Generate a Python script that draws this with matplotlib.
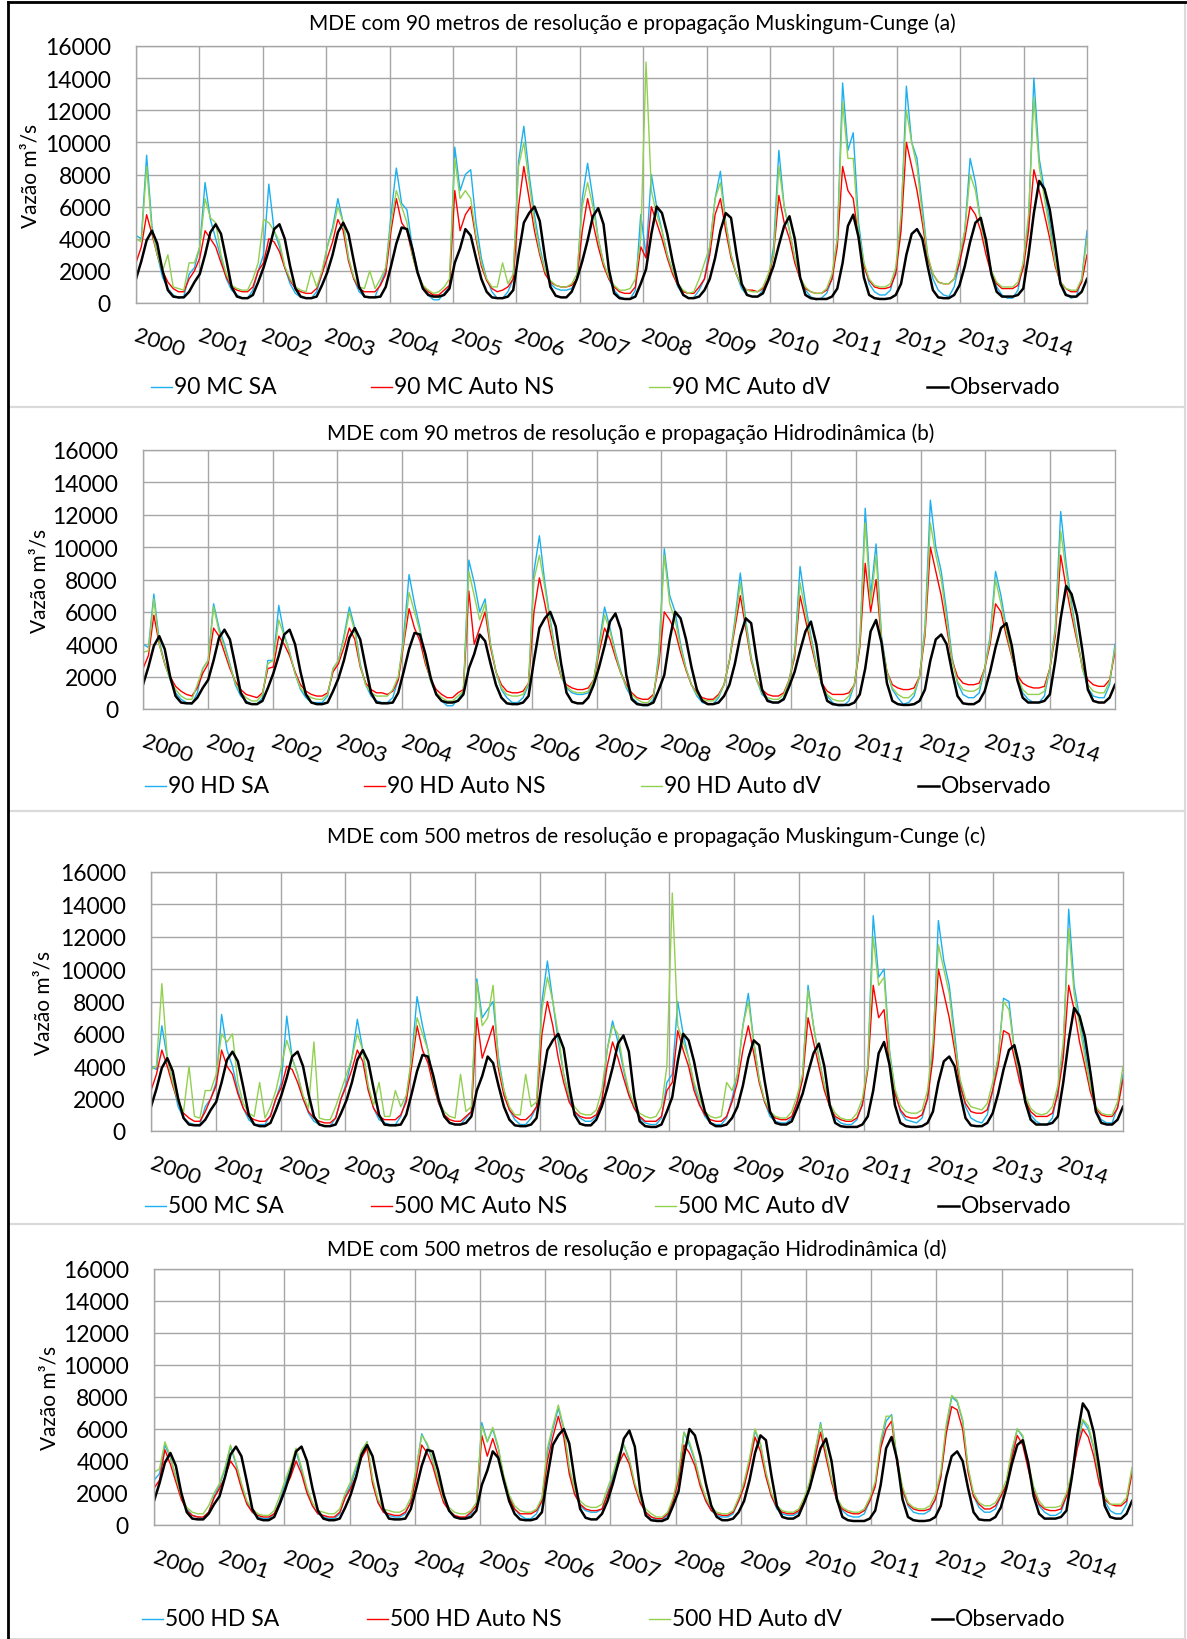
import numpy as np
import matplotlib
matplotlib.use("Agg")
import matplotlib.pyplot as plt
from matplotlib.lines import Line2D
from matplotlib.patches import Rectangle
from matplotlib.transforms import blended_transform_factory

plt.rcParams['font.family'] = ['Lato', 'DejaVu Sans']

LARGURA, ALTURA = 1187, 1640

ANOS = list(range(2000, 2015))
ROTULOS_ANOS = [str(a) for a in ANOS]
MARCAS_Y = list(range(0, 16001, 2000))

# vazões médias mensais (m³/s), uma linha por ano, jan..dez
OBSERVADO = [
    [1500, 2600, 3900, 4500, 3700, 2000, 800, 400, 350, 350, 700, 1300],
    [1800, 3000, 4400, 4900, 4300, 2700, 1000, 400, 300, 300, 500, 1300],
    [2200, 3300, 4600, 4900, 4000, 2300, 900, 400, 300, 300, 400, 1100],
    [1900, 3000, 4400, 5000, 4300, 2600, 1000, 400, 350, 350, 400, 1000],
    [2300, 3700, 4700, 4600, 3400, 1900, 900, 500, 400, 400, 500, 900],
    [2500, 3400, 4600, 4200, 2800, 1500, 700, 350, 300, 300, 400, 800],
    [3000, 5000, 5600, 6000, 5100, 2800, 1000, 450, 350, 350, 700, 1500],
    [2600, 3900, 5400, 5900, 4900, 2100, 600, 300, 250, 250, 400, 1200],
    [2100, 4300, 6000, 5600, 4300, 2600, 1200, 500, 300, 300, 400, 800],
    [1500, 2800, 4500, 5600, 5300, 3100, 1200, 500, 400, 400, 600, 1400],
    [2300, 3600, 4800, 5400, 4000, 1600, 500, 300, 250, 250, 250, 400],
    [900, 2500, 4800, 5500, 4100, 1600, 500, 300, 250, 250, 300, 500],
    [1200, 3000, 4300, 4600, 4000, 2300, 800, 350, 300, 300, 500, 1100],
    [2300, 3800, 5000, 5300, 3900, 1800, 700, 400, 400, 400, 500, 900],
    [3000, 5600, 7600, 7100, 5800, 3600, 1200, 500, 400, 400, 700, 1500],
]

MC90_SA = [
    [4200, 4000, 9200, 4800, 3000, 1600, 900, 500, 300, 400, 1800, 2200],
    [3500, 7500, 5200, 4000, 2800, 1500, 800, 500, 300, 300, 800, 2000],
    [3000, 7400, 4500, 3500, 2200, 1200, 600, 350, 300, 300, 700, 1800],
    [3500, 4700, 6500, 5000, 2800, 1500, 700, 400, 350, 400, 1200, 2000],
    [5500, 8400, 6200, 5800, 3500, 2000, 1000, 500, 200, 200, 600, 1000],
    [9700, 7000, 8000, 8300, 5000, 2800, 1500, 700, 300, 300, 700, 1500],
    [8800, 11000, 8000, 5500, 3500, 2000, 1200, 900, 800, 800, 900, 1500],
    [6500, 8700, 6500, 4000, 2500, 1500, 800, 400, 250, 250, 800, 5500],
    [3000, 8000, 6000, 4500, 3000, 2000, 1000, 500, 300, 350, 800, 1500],
    [3500, 6500, 8200, 5000, 3000, 1800, 900, 500, 400, 400, 800, 1500],
    [3500, 9500, 6000, 4500, 2800, 1500, 800, 400, 200, 300, 600, 1500],
    [4000, 13700, 9500, 10600, 5000, 2500, 1200, 700, 500, 500, 800, 2000],
    [5000, 13500, 10000, 9000, 6000, 3000, 1500, 800, 500, 400, 1000, 2500],
    [4500, 9000, 7500, 5000, 3500, 2000, 1000, 500, 300, 300, 800, 2500],
    [5000, 14000, 9000, 7000, 5000, 2500, 1200, 600, 300, 400, 1500, 4500],
]
MC90_NS = [
    [2500, 3500, 5500, 4300, 3000, 2000, 1300, 900, 700, 700, 1500, 2000],
    [2800, 4500, 4000, 3500, 2500, 1600, 1000, 800, 700, 700, 1000, 2000],
    [2500, 4000, 3800, 3200, 2200, 1400, 900, 700, 600, 600, 900, 1800],
    [2800, 3800, 5200, 4500, 2600, 1500, 900, 700, 700, 700, 1100, 1800],
    [4500, 6500, 5000, 4500, 3000, 1800, 1100, 700, 500, 500, 800, 1100],
    [7000, 4500, 5500, 6000, 4000, 2300, 1400, 900, 700, 800, 1000, 1500],
    [6000, 8500, 6500, 4500, 3000, 1800, 1300, 1100, 1000, 1000, 1100, 1500],
    [4500, 6500, 5000, 3500, 2300, 1500, 1000, 700, 600, 600, 1000, 3500],
    [2800, 6000, 5000, 4000, 2800, 1800, 1100, 700, 600, 600, 1000, 1500],
    [3000, 5500, 6500, 4500, 2800, 1800, 1100, 800, 800, 700, 900, 1500],
    [3000, 6700, 5000, 4000, 2500, 1500, 900, 700, 600, 600, 800, 1500],
    [3500, 8500, 7000, 6500, 4000, 2300, 1400, 1000, 900, 900, 1000, 1800],
    [4500, 10000, 8500, 7000, 5000, 2800, 1800, 1300, 1200, 1200, 1500, 2500],
    [4000, 6000, 5500, 4500, 3000, 1800, 1200, 900, 900, 900, 1100, 2200],
    [4500, 8300, 7000, 5500, 4000, 2300, 1300, 900, 700, 700, 1300, 3000],
]
MC90_DV = [
    [4000, 3800, 8500, 4500, 3000, 2000, 3000, 1000, 900, 800, 2500, 2500],
    [3500, 6500, 5300, 5000, 3000, 1800, 1100, 900, 800, 800, 1500, 2500],
    [5200, 5000, 4500, 3800, 2300, 1500, 1000, 800, 700, 2000, 1000, 2000],
    [3500, 4500, 6000, 5000, 2800, 1600, 1000, 900, 2000, 900, 1500, 2200],
    [5000, 7000, 6000, 5000, 3000, 1800, 1100, 800, 600, 700, 1000, 1500],
    [9000, 6500, 7000, 6500, 4200, 2500, 1500, 1000, 1000, 2500, 1200, 1800],
    [8500, 10000, 7500, 5000, 3200, 2000, 1400, 1100, 1000, 1000, 1200, 1800],
    [6000, 7500, 6000, 4000, 2500, 1600, 1100, 800, 800, 900, 1500, 4000],
    [15000, 7000, 5500, 4500, 3000, 2000, 1200, 800, 600, 700, 1500, 2500],
    [3500, 6500, 7500, 5000, 3000, 1800, 1100, 800, 700, 700, 1000, 1800],
    [3000, 8500, 6000, 4500, 2800, 1600, 1000, 700, 600, 600, 900, 1800],
    [4000, 12500, 9000, 9000, 4500, 2500, 1500, 1100, 1000, 1000, 1200, 2200],
    [5500, 12000, 10000, 8500, 5500, 3000, 1800, 1300, 1200, 1200, 1500, 3000],
    [4500, 8000, 7000, 5000, 3500, 2000, 1300, 1000, 1000, 1000, 1300, 2500],
    [5500, 12800, 8500, 6500, 4500, 2500, 1300, 900, 800, 800, 1500, 4000],
]

HD90_SA = [
    [4000, 3800, 7100, 4200, 2800, 1800, 1000, 600, 400, 300, 1000, 2500],
    [3000, 6500, 5000, 4000, 2800, 1500, 800, 500, 300, 300, 700, 3000],
    [3000, 6400, 4600, 3500, 2200, 1200, 700, 400, 400, 400, 800, 2500],
    [3000, 4500, 6300, 5000, 2800, 1500, 800, 500, 400, 400, 700, 1800],
    [4500, 8300, 6500, 5000, 3000, 1700, 900, 500, 200, 200, 600, 1000],
    [9200, 7800, 6000, 6800, 4000, 2300, 1200, 700, 400, 400, 700, 1500],
    [8500, 10700, 7800, 5500, 3500, 2000, 1300, 1000, 900, 900, 1000, 1800],
    [4000, 6300, 5000, 3500, 2300, 1300, 700, 400, 200, 200, 600, 3500],
    [9900, 7000, 6000, 4000, 2500, 1500, 800, 400, 300, 300, 700, 1500],
    [3000, 5500, 8400, 5500, 3200, 1800, 900, 600, 400, 400, 700, 1800],
    [3500, 8800, 6500, 4500, 2800, 1500, 800, 400, 200, 200, 500, 1500],
    [4000, 12400, 7000, 10200, 4500, 2300, 1200, 700, 300, 400, 800, 2000],
    [5000, 12900, 10000, 8500, 6000, 3200, 1600, 900, 700, 700, 1000, 2500],
    [4500, 8500, 7000, 5000, 3300, 2000, 1000, 600, 400, 400, 800, 2500],
    [5000, 12200, 9000, 6500, 4500, 2500, 1300, 800, 700, 700, 1500, 4000],
]
HD90_NS = [
    [2500, 3300, 5800, 4000, 2800, 2000, 1400, 1100, 900, 800, 1300, 2200],
    [2800, 5000, 4500, 3500, 2500, 1700, 1200, 900, 800, 700, 1000, 2500],
    [2600, 4500, 4000, 3300, 2300, 1500, 1100, 900, 800, 800, 1000, 2300],
    [2800, 3800, 5000, 4300, 2600, 1600, 1200, 1000, 1000, 900, 1100, 1800],
    [4000, 6200, 5000, 4200, 2800, 1800, 1200, 900, 700, 700, 1000, 1200],
    [7300, 4000, 5000, 6000, 3800, 2300, 1500, 1100, 1000, 1000, 1100, 1600],
    [6000, 8100, 6500, 4800, 3200, 2000, 1500, 1300, 1200, 1200, 1300, 1800],
    [3500, 5000, 4300, 3200, 2200, 1500, 1000, 700, 600, 600, 900, 2800],
    [6000, 5500, 4800, 3500, 2400, 1500, 1000, 700, 600, 600, 900, 1500],
    [3000, 5000, 7000, 5000, 3000, 1800, 1200, 900, 800, 800, 1000, 1800],
    [3200, 7000, 5500, 4000, 2600, 1600, 1100, 900, 900, 900, 1000, 1500],
    [3800, 9000, 6000, 8000, 4200, 2300, 1500, 1300, 1200, 1200, 1300, 2000],
    [4500, 10000, 8500, 7000, 5000, 3000, 2000, 1600, 1500, 1500, 1600, 2500],
    [4000, 6500, 6000, 4500, 3200, 2100, 1600, 1400, 1300, 1300, 1400, 2500],
    [4500, 9500, 7500, 5800, 4200, 2600, 1800, 1500, 1400, 1400, 1800, 3500],
]
HD90_DV = [
    [3500, 3600, 6800, 4000, 2800, 1800, 1200, 800, 600, 600, 1500, 2500],
    [3000, 6300, 4800, 3800, 2700, 1600, 1000, 700, 500, 500, 900, 2800],
    [3000, 5500, 4500, 3500, 2200, 1300, 900, 700, 600, 600, 900, 2500],
    [3000, 4300, 6000, 4800, 2700, 1500, 1000, 800, 800, 800, 1200, 2000],
    [4200, 7200, 6000, 4800, 3000, 1700, 1000, 700, 500, 500, 800, 1100],
    [8500, 7000, 5500, 6500, 4000, 2300, 1300, 900, 800, 800, 900, 1600],
    [8000, 9500, 7500, 5300, 3400, 2000, 1400, 1100, 1000, 1000, 1100, 1800],
    [3800, 5800, 4800, 3400, 2200, 1400, 900, 600, 400, 400, 800, 3200],
    [9500, 6500, 5500, 3800, 2500, 1500, 900, 600, 500, 500, 800, 1500],
    [3000, 5300, 7800, 5300, 3100, 1800, 1000, 700, 600, 600, 900, 1800],
    [3400, 7800, 6000, 4300, 2700, 1500, 900, 600, 500, 500, 800, 1500],
    [4000, 11500, 6500, 9500, 4300, 2300, 1300, 900, 700, 700, 1000, 2000],
    [4800, 11500, 9500, 8000, 5500, 3000, 1700, 1200, 1100, 1100, 1300, 2500],
    [4300, 8000, 6500, 4800, 3300, 2000, 1200, 900, 900, 900, 1100, 2500],
    [4800, 11000, 8500, 6200, 4400, 2500, 1500, 1100, 1000, 1000, 1700, 3800],
]

MC500_SA = [
    [4000, 3800, 6500, 4500, 3000, 1500, 800, 500, 400, 400, 1500, 2000],
    [3000, 7200, 5000, 4000, 2500, 1400, 700, 400, 400, 400, 1000, 2000],
    [3000, 7100, 4500, 3500, 2000, 1100, 600, 400, 300, 300, 800, 2000],
    [3000, 4500, 6900, 5000, 2700, 1400, 700, 500, 400, 400, 900, 2000],
    [4500, 8300, 6500, 5000, 3000, 1700, 900, 500, 400, 400, 800, 1200],
    [9400, 7000, 7500, 8000, 4500, 2500, 1300, 700, 400, 400, 800, 1500],
    [8000, 10500, 8000, 5500, 3500, 2000, 1200, 800, 600, 600, 900, 1800],
    [5000, 6800, 5500, 3800, 2300, 1400, 800, 500, 400, 400, 800, 3000],
    [3500, 8000, 6000, 4500, 2800, 1700, 900, 500, 400, 400, 800, 2000],
    [3500, 6500, 8500, 5500, 3200, 1800, 900, 600, 500, 500, 800, 1800],
    [3500, 9000, 6500, 4500, 2800, 1500, 800, 500, 400, 400, 700, 1700],
    [4000, 13300, 9500, 10000, 5000, 2500, 1200, 700, 600, 500, 800, 2000],
    [5000, 13000, 10500, 9000, 6000, 3000, 1500, 800, 600, 500, 1000, 2500],
    [4500, 8200, 8000, 5000, 3300, 2000, 1000, 600, 400, 400, 800, 2500],
    [5000, 13700, 9000, 7000, 5000, 2600, 1300, 700, 500, 500, 1500, 3500],
]
MC500_NS = [
    [2500, 3500, 5000, 4000, 2800, 1800, 1100, 800, 600, 600, 1200, 2000],
    [2800, 5000, 4000, 3500, 2300, 1400, 900, 700, 600, 600, 900, 2000],
    [2700, 4000, 3800, 3000, 2000, 1200, 800, 600, 500, 500, 800, 2000],
    [2800, 3800, 5000, 4300, 2500, 1400, 900, 700, 700, 700, 1000, 1800],
    [4000, 6500, 5000, 4200, 2800, 1700, 1000, 700, 600, 600, 900, 1200],
    [7000, 4500, 5500, 6500, 3800, 2200, 1300, 900, 700, 700, 1000, 1500],
    [6000, 8000, 6500, 4500, 3000, 1800, 1200, 900, 800, 800, 1000, 1800],
    [4000, 5500, 4500, 3300, 2200, 1400, 900, 600, 600, 600, 900, 2500],
    [3000, 6200, 5000, 4000, 2500, 1600, 1000, 700, 600, 600, 900, 1800],
    [3000, 5000, 6500, 4800, 3000, 1800, 1100, 800, 700, 700, 900, 1800],
    [3200, 7000, 5500, 4000, 2500, 1500, 900, 700, 600, 600, 800, 1600],
    [3800, 9000, 7000, 7500, 4000, 2300, 1300, 900, 800, 800, 1000, 2000],
    [4500, 10000, 8500, 7000, 5000, 2800, 1700, 1200, 1100, 1100, 1300, 2500],
    [4000, 6200, 6000, 4500, 3000, 1900, 1200, 900, 900, 900, 1100, 2300],
    [4500, 9000, 7500, 5500, 4000, 2400, 1400, 1000, 900, 900, 1400, 3200],
]
MC500_DV = [
    [3800, 4000, 9100, 4500, 3000, 1800, 1200, 4000, 900, 800, 2500, 2500],
    [3500, 6000, 5500, 6000, 3000, 1700, 1100, 900, 3000, 800, 1500, 2500],
    [4000, 5600, 4500, 3500, 2200, 1400, 5500, 800, 700, 700, 1500, 2500],
    [3500, 4500, 6000, 5000, 2800, 1600, 3000, 900, 900, 2500, 1500, 2200],
    [4500, 7000, 6000, 5000, 3000, 1800, 1200, 900, 800, 3500, 1200, 1500],
    [9200, 6500, 7000, 9000, 4200, 2500, 1500, 1000, 1000, 3500, 1500, 1800],
    [7500, 9500, 8000, 6000, 3500, 2200, 1500, 1100, 1000, 1000, 1300, 2500],
    [5000, 6500, 6000, 4000, 2500, 1600, 1100, 900, 800, 900, 1500, 4000],
    [14700, 6500, 5500, 4500, 3000, 2000, 1200, 900, 800, 900, 3000, 2500],
    [3500, 6500, 8000, 5500, 3200, 1900, 1200, 900, 800, 800, 1200, 2200],
    [3500, 8700, 6500, 4500, 2800, 1700, 1100, 800, 700, 700, 1100, 2000],
    [4000, 12000, 9000, 9500, 4800, 2600, 1600, 1200, 1100, 1100, 1300, 2500],
    [5500, 11500, 10000, 8500, 5500, 3200, 2000, 1500, 1400, 1300, 1700, 3000],
    [4500, 8000, 7500, 5000, 3500, 2200, 1400, 1100, 1000, 1100, 1500, 2800],
    [5500, 12500, 8500, 6500, 4500, 2700, 1500, 1100, 1000, 1000, 1800, 4000],
]

HD500_SA = [
    [2800, 3200, 5000, 4200, 3000, 1800, 1000, 600, 500, 400, 800, 1800],
    [2500, 3500, 4900, 3800, 2500, 1400, 800, 500, 400, 400, 700, 1500],
    [2600, 3500, 4600, 3400, 2200, 1200, 700, 500, 400, 400, 700, 1800],
    [2500, 3500, 4500, 5200, 2800, 1400, 800, 600, 500, 500, 700, 1500],
    [3500, 5700, 5000, 4000, 2700, 1500, 900, 500, 400, 400, 700, 1200],
    [6400, 5200, 6000, 4800, 3000, 1800, 1000, 600, 400, 400, 700, 1500],
    [4500, 6000, 7300, 6000, 3500, 2000, 1200, 900, 800, 800, 1000, 2000],
    [3000, 4200, 5000, 4000, 2500, 1400, 800, 500, 300, 300, 600, 1500],
    [3000, 5800, 5000, 4000, 2600, 1500, 900, 600, 500, 500, 700, 1500],
    [2500, 4000, 5900, 5000, 3200, 1800, 1000, 700, 600, 600, 800, 1500],
    [2500, 4500, 6400, 4500, 2800, 1500, 900, 600, 500, 500, 700, 1500],
    [2500, 5000, 6500, 6900, 4000, 2200, 1200, 800, 700, 700, 900, 1600],
    [3000, 6000, 8000, 7700, 6500, 3500, 1800, 1100, 800, 800, 1000, 1800],
    [2500, 4500, 6000, 5500, 3800, 2200, 1200, 800, 600, 600, 800, 1800],
    [3000, 5000, 6500, 6000, 4800, 2800, 1500, 900, 700, 700, 1300, 3500],
]
HD500_NS = [
    [2300, 2800, 4700, 3800, 2700, 1600, 900, 600, 500, 500, 800, 1700],
    [2300, 3000, 4000, 3500, 2300, 1300, 800, 600, 500, 500, 700, 1400],
    [2300, 3000, 4000, 3200, 2000, 1200, 700, 600, 500, 500, 800, 1700],
    [2300, 3100, 4200, 4800, 2600, 1400, 800, 700, 600, 600, 800, 1400],
    [3000, 5000, 4500, 3700, 2500, 1400, 900, 600, 500, 500, 800, 1200],
    [5600, 4300, 5400, 4300, 2800, 1700, 1000, 700, 700, 700, 900, 1500],
    [4000, 5500, 6800, 5500, 3200, 1900, 1300, 1000, 900, 900, 1000, 1900],
    [2800, 3800, 4500, 3800, 2400, 1400, 800, 500, 400, 400, 700, 1500],
    [2800, 5000, 4500, 3700, 2400, 1500, 900, 700, 600, 600, 800, 1500],
    [2400, 3800, 5500, 4600, 3000, 1800, 1100, 800, 700, 700, 900, 1500],
    [2400, 4200, 5800, 4200, 2700, 1500, 1000, 800, 700, 700, 900, 1500],
    [2400, 4800, 6000, 6500, 3800, 2200, 1300, 1000, 900, 900, 1000, 1600],
    [3000, 5700, 7400, 7200, 6000, 3300, 1800, 1300, 1000, 1000, 1200, 1800],
    [2500, 4200, 5600, 5000, 3500, 2100, 1300, 1000, 900, 900, 1000, 1800],
    [3000, 4800, 6000, 5500, 4300, 2600, 1600, 1300, 1200, 1200, 1500, 3200],
]
HD500_DV = [
    [3300, 3500, 5200, 4300, 3000, 1800, 1100, 800, 700, 700, 1200, 2000],
    [2600, 3600, 5000, 3900, 2600, 1500, 1000, 700, 600, 600, 900, 1800],
    [2800, 3700, 4800, 3600, 2300, 1400, 900, 800, 700, 700, 1000, 2000],
    [2700, 3700, 4700, 5200, 2900, 1600, 1000, 900, 800, 800, 1000, 1700],
    [3600, 5600, 5100, 4100, 2800, 1600, 1100, 800, 700, 700, 900, 1400],
    [6200, 5200, 6100, 4900, 3100, 1900, 1200, 900, 800, 800, 1000, 1700],
    [4800, 6200, 7500, 6100, 3600, 2200, 1500, 1200, 1100, 1100, 1300, 2300],
    [3200, 4400, 5000, 4100, 2600, 1600, 1000, 700, 500, 500, 800, 1700],
    [3200, 5800, 5200, 4100, 2700, 1700, 1100, 800, 700, 700, 900, 1700],
    [2700, 4200, 6000, 5100, 3300, 2000, 1200, 900, 800, 800, 1000, 1700],
    [2700, 4700, 6300, 4600, 2900, 1700, 1100, 900, 800, 800, 1000, 1700],
    [2700, 5300, 6800, 6800, 4100, 2400, 1400, 1100, 1000, 1000, 1200, 1900],
    [3300, 6300, 8100, 7800, 6600, 3600, 2000, 1400, 1200, 1200, 1400, 2000],
    [2800, 4700, 6000, 5600, 3900, 2400, 1500, 1100, 1100, 1100, 1200, 2000],
    [3300, 5300, 6600, 6200, 4900, 3000, 1800, 1300, 1300, 1300, 1700, 3600],
]

COR_SA = '#1CB0EE'
COR_NS = '#FF0000'
COR_DV = '#92D050'
COR_GRADE = '#A6A6A6'

# cada painel: posição dos eixos em pixels (esq, topo, dir, base), título, séries
PAINEIS = [
    dict(caixa=(136, 47, 1087, 304), moldura=(3, 408),
         titulo="MDE com 90 metros de resolução e propagação Muskingum-Cunge (a)",
         titulo_xy=(309, 24), ylabel_x=31,
         series=[MC90_SA, MC90_NS, MC90_DV],
         nomes=["90 MC SA", "90 MC Auto NS", "90 MC Auto dV", "Observado"],
         legenda_y=388, legenda_x=[151, 371, 649, 927]),
    dict(caixa=(143, 451, 1115, 710), moldura=(408, 812),
         titulo="MDE com 90 metros de resolução e propagação Hidrodinâmica (b)",
         titulo_xy=(327, 434), ylabel_x=39,
         series=[HD90_SA, HD90_NS, HD90_DV],
         nomes=["90 HD SA", "90 HD Auto NS", "90 HD Auto dV", "Observado"],
         legenda_y=787, legenda_x=[145, 364, 641, 918]),
    dict(caixa=(151, 873, 1123, 1132), moldura=(812, 1225),
         titulo="MDE com 500 metros de resolução e propagação Muskingum-Cunge (c)",
         titulo_xy=(327, 837), ylabel_x=44,
         series=[MC500_SA, MC500_NS, MC500_DV],
         nomes=["500 MC SA", "500 MC Auto NS", "500 MC Auto dV", "Observado"],
         legenda_y=1207, legenda_x=[145, 371, 655, 938]),
    dict(caixa=(154, 1270, 1132, 1526), moldura=(1225, 1640),
         titulo="MDE com 500 metros de resolução e propagação Hidrodinâmica (d)",
         titulo_xy=(327, 1250), ylabel_x=50,
         series=[HD500_SA, HD500_NS, HD500_DV],
         nomes=["500 HD SA", "500 HD Auto NS", "500 HD Auto dV", "Observado"],
         legenda_y=1620, legenda_x=[142, 367, 649, 932]),
]

FONTE_TITULO = 15
FONTE_EIXO = 16.5
FONTE_ANOS = 16
FONTE_LEGENDA = 16.5


def fx(px):
    return px / LARGURA


def fy(py):
    return 1 - py / ALTURA


obs = np.array(OBSERVADO, dtype=float).ravel()
tempo = np.linspace(2000, 2015, obs.size)

fig = plt.figure(figsize=(LARGURA / 100, ALTURA / 100), dpi=100)

for p in PAINEIS:
    topo_m, base_m = p['moldura']
    fig.add_artist(Rectangle((fx(8), fy(base_m)), fx(1185 - 8), (base_m - topo_m) / ALTURA,
                             transform=fig.transFigure, fill=False,
                             edgecolor='#DADADA', lw=1.5))

    e, t, d, b = p['caixa']
    ax = fig.add_axes([fx(e), fy(b), fx(d - e), (b - t) / ALTURA])
    cores = [COR_SA, COR_NS, COR_DV]
    for valores, cor in zip(p['series'], cores):
        ax.plot(tempo, np.array(valores, dtype=float).ravel(), color=cor, lw=1.0)
    ax.plot(tempo, obs, color='black', lw=1.8)

    ax.set_xlim(2000, 2015)
    ax.set_ylim(0, 16000)
    ax.set_yticks(MARCAS_Y)
    ax.set_yticklabels([str(v) for v in MARCAS_Y], fontsize=FONTE_EIXO)
    ax.set_xticks(ANOS)
    ax.set_xticklabels([])
    ax.tick_params(length=0)
    ax.tick_params(axis='y', pad=18)
    ax.grid(True, color=COR_GRADE, lw=1)
    ax.set_axisbelow(True)
    for s in ax.spines.values():
        s.set_color(COR_GRADE)
        s.set_linewidth(1)

    # rótulos dos anos, inclinados
    trans = blended_transform_factory(ax.transData, ax.transAxes)
    for ano, rot in zip(ANOS, ROTULOS_ANOS):
        ax.text(ano + 0.37, -39 / (b - t), rot, transform=trans, rotation=-18,
                rotation_mode='anchor', ha='center', va='center', fontsize=FONTE_ANOS)

    fig.text(fx(p['titulo_xy'][0]), fy(p['titulo_xy'][1]), p['titulo'],
             ha='left', va='center', fontsize=FONTE_TITULO)
    fig.text(fx(p['ylabel_x']), fy((t + b) / 2), "Vazão m³/s", rotation=90,
             ha='center', va='center', fontsize=FONTE_TITULO)

    # legenda em linha
    for x0, nome, cor in zip(p['legenda_x'], p['nomes'], cores + ['black']):
        yl = fy(p['legenda_y'])
        fig.add_artist(Line2D([fx(x0), fx(x0 + 21)], [yl, yl], transform=fig.transFigure,
                              color=cor, lw=1.8 if cor == 'black' else 1.0))
        fig.text(fx(x0 + 23), yl, nome, ha='left', va='center', fontsize=FONTE_LEGENDA)

# contorno externo
fig.add_artist(Line2D([fx(8), fx(8)], [fy(3), 0], transform=fig.transFigure, color='black', lw=2))
fig.add_artist(Line2D([fx(8), fx(1187)], [fy(3), fy(3)], transform=fig.transFigure, color='black', lw=2))

fig.savefig("out.png", dpi=100)
